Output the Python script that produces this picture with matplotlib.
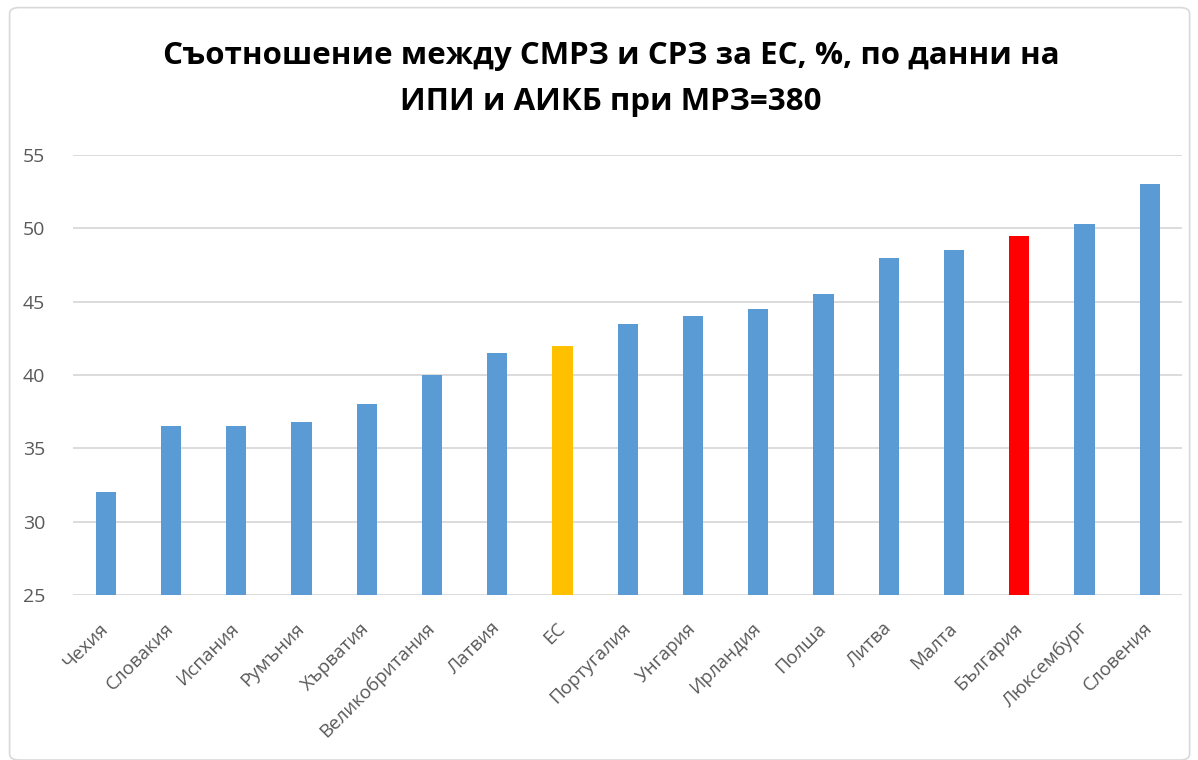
import matplotlib.pyplot as plt
from matplotlib.patches import FancyBboxPatch

countries = ["Чехия", "Словакия", "Испания", "Румъния", "Хърватия",
             "Великобритания", "Латвия", "ЕС", "Португалия", "Унгария",
             "Ирландия", "Полша", "Литва", "Малта", "България",
             "Люксембург", "Словения"]
values = [32, 36.5, 36.5, 36.8, 38, 40, 41.5, 42, 43.5, 44,
          44.5, 45.5, 48, 48.5, 49.5, 50.3, 53]
highlight = {"ЕС": "#FFC000", "България": "#FF0000"}
yticks = [25, 30, 35, 40, 45, 50, 55]

plt.rcParams['font.family'] = ['Open Sans', 'DejaVu Sans']

fig = plt.figure(figsize=(11.98, 7.6), dpi=100)
ax = fig.add_axes([0.061, 0.217, 0.926, 0.579])

colors = [highlight.get(c, "#5B9BD5") for c in countries]
x = range(len(countries))
ax.bar(x, [v - yticks[0] for v in values], bottom=yticks[0], width=0.31,
       color=colors, zorder=3)

ax.set_ylim(yticks[0], yticks[-1])
ax.set_xlim(-0.5, len(countries) - 0.5)
ax.set_yticks(yticks)
ax.set_yticklabels([str(t) for t in yticks], fontsize=14, color="#595959")
ax.set_xticks(list(x))
ax.set_xticklabels(countries, rotation=45, ha="right", va="center",
                   rotation_mode="anchor", fontsize=13.5, color="#595959")
ax.tick_params(axis="y", length=0, pad=20)
ax.tick_params(axis="x", length=0, pad=22)
ax.grid(axis="y", color="#D9D9D9", linewidth=1.3, zorder=0)
for s in ax.spines.values():
    s.set_visible(False)

fig.text(0.51, 0.926, "Съотношение между СМРЗ и СРЗ за ЕС, %, по данни на",
         ha="center", va="center", fontsize=22.5, fontweight="bold",
         family=['Open Sans', 'DejaVu Sans'])
fig.text(0.51, 0.866, "ИПИ и АИКБ при МРЗ=380",
         ha="center", va="center", fontsize=22.5, fontweight="bold",
         family=['Open Sans', 'DejaVu Sans'])

border = FancyBboxPatch((0.008, 0.0), 0.985, 0.99, boxstyle="round,pad=0,rounding_size=0.008",
                        transform=fig.transFigure, fill=False, edgecolor="#D9D9D9",
                        linewidth=1.2)
fig.patches.append(border)

fig.savefig("out.png", dpi=100)
